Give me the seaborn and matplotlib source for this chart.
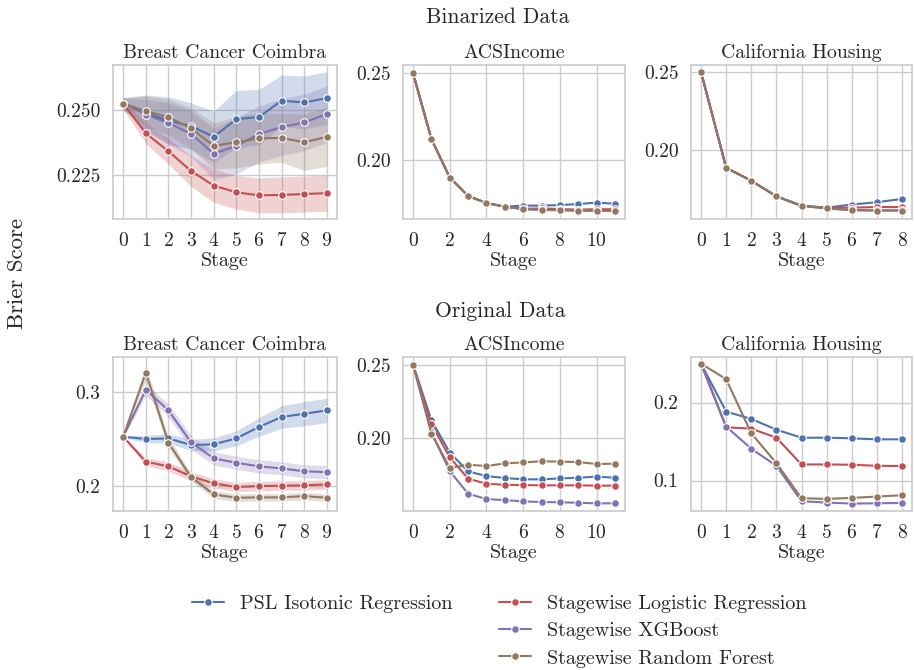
import numpy as np
import pandas as pd
import matplotlib.pyplot as plt
import seaborn as sns

methods = ["PSL Isotonic Regression", "Stagewise Logistic Regression",
           "Stagewise XGBoost", "Stagewise Random Forest"]

# --- Binarized data ---
bin_bcc_stage = list(range(10))
bin_bcc_psl = [0.2527, 0.2490, 0.2460, 0.2439, 0.2397, 0.2466, 0.2474, 0.2538, 0.2531, 0.2548]
bin_bcc_lr = [0.2527, 0.2411, 0.2341, 0.2264, 0.2207, 0.2181, 0.2169, 0.2171, 0.2174, 0.2178]
bin_bcc_xgb = [0.2527, 0.2484, 0.2451, 0.2409, 0.2331, 0.2362, 0.2408, 0.2435, 0.2453, 0.2486]
bin_bcc_rf = [0.2527, 0.2497, 0.2474, 0.2430, 0.2362, 0.2376, 0.2391, 0.2393, 0.2376, 0.2397]
bin_bcc_psl_err = [0.0022, 0.0070, 0.0093, 0.0091, 0.0100, 0.0112, 0.0108, 0.0100, 0.0103, 0.0103]
bin_bcc_lr_err = [0.0022, 0.0040, 0.0050, 0.0060, 0.0065, 0.0065, 0.0068, 0.0070, 0.0070, 0.0070]
bin_bcc_xgb_err = [0.0022, 0.0060, 0.0080, 0.0090, 0.0100, 0.0110, 0.0110, 0.0110, 0.0110, 0.0110]
bin_bcc_rf_err = [0.0022, 0.0060, 0.0070, 0.0080, 0.0090, 0.0100, 0.0100, 0.0095, 0.0110, 0.0115]

bin_acs_stage = list(range(12))
bin_acs_psl = [0.2500, 0.2122, 0.1901, 0.1795, 0.1755, 0.1734, 0.1740, 0.1740, 0.1743, 0.1749, 0.1757, 0.1751]
bin_acs_lr = [0.2500, 0.2122, 0.1901, 0.1795, 0.1755, 0.1734, 0.1722, 0.1724, 0.1720, 0.1717, 0.1719, 0.1719]
bin_acs_xgb = [0.2500, 0.2122, 0.1901, 0.1795, 0.1755, 0.1733, 0.1720, 0.1716, 0.1714, 0.1712, 0.1711, 0.1711]
bin_acs_rf = [0.2500, 0.2122, 0.1901, 0.1795, 0.1755, 0.1733, 0.1720, 0.1715, 0.1713, 0.1711, 0.1709, 0.1709]

bin_cal_stage = list(range(9))
bin_cal_psl = [0.2500, 0.1884, 0.1800, 0.1700, 0.1640, 0.1627, 0.1647, 0.1662, 0.1683]
bin_cal_lr = [0.2500, 0.1884, 0.1800, 0.1700, 0.1640, 0.1625, 0.1627, 0.1631, 0.1631]
bin_cal_xgb = [0.2500, 0.1884, 0.1800, 0.1700, 0.1638, 0.1622, 0.1612, 0.1610, 0.1610]
bin_cal_rf = [0.2500, 0.1884, 0.1800, 0.1700, 0.1638, 0.1623, 0.1610, 0.1608, 0.1608]

# --- Original data ---
org_bcc_stage = list(range(10))
org_bcc_psl = [0.2525, 0.2500, 0.2507, 0.2436, 0.2443, 0.2507, 0.2629, 0.2736, 0.2771, 0.2807]
org_bcc_lr = [0.2525, 0.2257, 0.2207, 0.2100, 0.2025, 0.1986, 0.1996, 0.2000, 0.2004, 0.2014]
org_bcc_xgb = [0.2525, 0.3029, 0.2807, 0.2464, 0.2293, 0.2246, 0.2207, 0.2186, 0.2154, 0.2146]
org_bcc_rf = [0.2525, 0.3211, 0.2461, 0.2093, 0.1907, 0.1871, 0.1875, 0.1875, 0.1889, 0.1871]
org_bcc_psl_err = [0.001, 0.004, 0.005, 0.006, 0.007, 0.008, 0.010, 0.012, 0.013, 0.013]
org_bcc_lr_err = [0.001, 0.004, 0.005, 0.005, 0.005, 0.005, 0.005, 0.005, 0.005, 0.005]
org_bcc_xgb_err = [0.001, 0.006, 0.007, 0.007, 0.007, 0.007, 0.007, 0.007, 0.007, 0.007]
org_bcc_rf_err = [0.001, 0.008, 0.006, 0.004, 0.004, 0.004, 0.004, 0.004, 0.004, 0.004]

org_acs_stage = list(range(12))
org_acs_psl = [0.2500, 0.2122, 0.1903, 0.1776, 0.1744, 0.1731, 0.1722, 0.1722, 0.1728, 0.1733, 0.1740, 0.1733]
org_acs_lr = [0.2500, 0.2097, 0.1871, 0.1726, 0.1692, 0.1685, 0.1683, 0.1681, 0.1681, 0.1681, 0.1679, 0.1679]
org_acs_xgb = [0.2500, 0.2040, 0.1778, 0.1624, 0.1588, 0.1581, 0.1572, 0.1568, 0.1566, 0.1563, 0.1559, 0.1559]
org_acs_rf = [0.2500, 0.2032, 0.1799, 0.1821, 0.1812, 0.1830, 0.1837, 0.1844, 0.1842, 0.1839, 0.1826, 0.1828]

org_cal_stage = list(range(9))
org_cal_psl = [0.2498, 0.1884, 0.1790, 0.1652, 0.1549, 0.1549, 0.1541, 0.1528, 0.1528]
org_cal_lr = [0.2498, 0.1682, 0.1665, 0.1549, 0.1206, 0.1206, 0.1202, 0.1189, 0.1185]
org_cal_xgb = [0.2498, 0.1691, 0.1408, 0.1189, 0.0734, 0.0717, 0.0704, 0.0708, 0.0712]
org_cal_rf = [0.2498, 0.2300, 0.1605, 0.1223, 0.0773, 0.0764, 0.0777, 0.0794, 0.0811]

sns.set_theme(style="whitegrid", palette="deep")
plt.rcParams['font.family'] = 'serif'
plt.rcParams['font.serif'] = ['cmr10']
plt.rcParams['mathtext.fontset'] = 'cm'
plt.rcParams['axes.formatter.use_mathtext'] = True
plt.rcParams['axes.unicode_minus'] = False
colors = sns.color_palette("deep")
pal = {methods[0]: colors[0], methods[1]: colors[3], methods[2]: colors[4], methods[3]: colors[5]}

fig = plt.figure(figsize=(9.14, 6.70), dpi=100)
W, H = 914, 670


def make_ax(left, top, right, bottom):
    return fig.add_axes([left / W, 1 - bottom / H, (right - left) / W, (bottom - top) / H])


panels = [
    ("Breast Cancer Coimbra", bin_bcc_stage, [bin_bcc_psl, bin_bcc_lr, bin_bcc_xgb, bin_bcc_rf],
     [bin_bcc_psl_err, bin_bcc_lr_err, bin_bcc_xgb_err, bin_bcc_rf_err],
     (113, 65, 337, 219), list(range(10)), [0.225, 0.250], "%.3f", (0.2077, 0.2677)),
    ("ACSIncome", bin_acs_stage, [bin_acs_psl, bin_acs_lr, bin_acs_xgb, bin_acs_rf], None,
     (403, 65, 625, 219), [0, 2, 4, 6, 8, 10], [0.20, 0.25], "%.2f", (0.1663, 0.2548)),
    ("California Housing", bin_cal_stage, [bin_cal_psl, bin_cal_lr, bin_cal_xgb, bin_cal_rf], None,
     (691, 65, 912, 219), list(range(9)), [0.20, 0.25], "%.2f", (0.1554, 0.2545)),
    ("Breast Cancer Coimbra", org_bcc_stage, [org_bcc_psl, org_bcc_lr, org_bcc_xgb, org_bcc_rf],
     [org_bcc_psl_err, org_bcc_lr_err, org_bcc_xgb_err, org_bcc_rf_err],
     (113, 357, 337, 511), list(range(10)), [0.2, 0.3], "%.1f", (0.1729, 0.3379)),
    ("ACSIncome", org_acs_stage, [org_acs_psl, org_acs_lr, org_acs_xgb, org_acs_rf], None,
     (403, 357, 625, 511), [0, 2, 4, 6, 8, 10], [0.20, 0.25], "%.2f", (0.1507, 0.2552)),
    ("California Housing", org_cal_stage, [org_cal_psl, org_cal_lr, org_cal_xgb, org_cal_rf], None,
     (691, 357, 912, 511), list(range(9)), [0.1, 0.2], "%.1f", (0.0609, 0.2584)),
]

handles = None
for title, stage, series, errs, box, xt, yt, fmt, ylim in panels:
    ax = make_ax(*box)
    rows = []
    for m, vals in zip(methods, series):
        for s, v in zip(stage, vals):
            rows.append({"Stage": s, "Brier": v, "Method": m})
    df = pd.DataFrame(rows)
    if errs is not None:
        for m, vals, e in zip(methods, series, errs):
            vals = np.array(vals)
            e = np.array(e)
            ax.fill_between(stage, vals - e, vals + e, color=pal[m], alpha=0.25, linewidth=0)
    sns.lineplot(data=df, x="Stage", y="Brier", hue="Method", hue_order=methods,
                 palette=pal, marker="o", markersize=5.5, markeredgecolor="white",
                 markeredgewidth=0.8, linewidth=1.5, ax=ax, legend=True)
    if handles is None:
        handles, labels = ax.get_legend_handles_labels()
    ax.get_legend().remove()
    ax.set_title(title, fontsize=14.2, pad=5)
    ax.set_xlabel("Stage", fontsize=14.5, labelpad=2)
    ax.set_ylabel("")
    ax.set_xticks(xt)
    ax.set_yticks(yt)
    ax.set_yticklabels([fmt % v for v in yt])
    ax.set_ylim(*ylim)
    ax.tick_params(labelsize=14, pad=3)

fig.text(498 / W, 1 - 17 / H, "Binarized Data", ha="center", va="center", fontsize=15.5)
fig.text(500 / W, 1 - 311 / H, "Original Data", ha="center", va="center", fontsize=15.5)
fig.text(17 / W, 1 - 273 / H, "Brier Score", ha="center", va="center", rotation=90, fontsize=16.5)

blank = plt.Line2D([], [], color="none")
leg_handles = [handles[0], blank, blank, handles[1], handles[2], handles[3]]
leg_labels = [labels[0], "", "", labels[1], labels[2], labels[3]]
fig.legend(leg_handles, leg_labels, ncol=2, loc="upper center",
           bbox_to_anchor=(499 / W, 1 - 577 / H), frameon=False, fontsize=14.5,
           handlelength=1.6, handletextpad=0.8, columnspacing=2.3, labelspacing=0.45)

fig.savefig("out.png", dpi=100)
